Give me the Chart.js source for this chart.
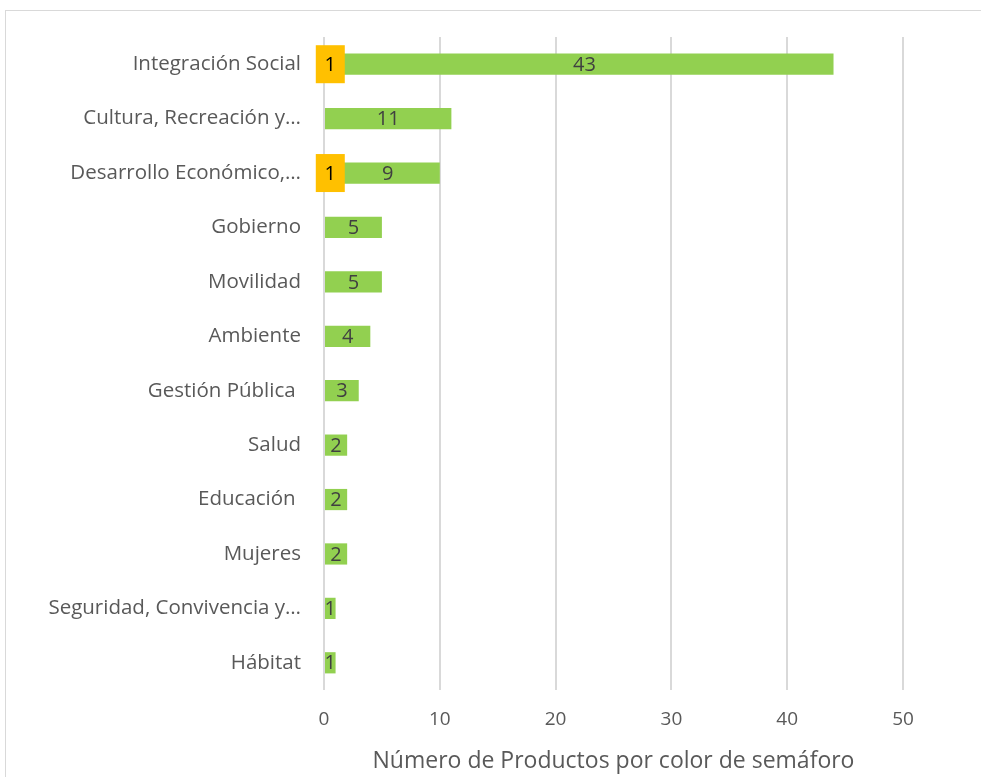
<!DOCTYPE html>
<html>
<head>
<meta charset="utf-8">
<script src="https://cdn.jsdelivr.net/npm/chart.js@4"></script>
<style>
  html, body { margin: 0; padding: 0; background: #fff; }
  #frame {
    position: absolute; left: 5px; top: 10px; width: 1000px; height: 800px;
    border: 1.5px solid #d9d9d9; box-sizing: border-box;
  }
  #chart { position: absolute; left: 0; top: 0; }
</style>
</head>
<body>
<div id="frame"></div>
<canvas id="chart" width="981" height="777"></canvas>
<script>
const sectors = [
  'Integración Social',
  'Cultura, Recreación y…',
  'Desarrollo Económico,…',
  'Gobierno',
  'Movilidad',
  'Ambiente',
  'Gestión Pública ',
  'Salud',
  'Educación ',
  'Mujeres',
  'Seguridad, Convivencia y…',
  'Hábitat'
];
const yellowProducts = [1, null, 1, null, null, null, null, null, null, null, null, null];
const greenProducts = [43, 11, 9, 5, 5, 4, 3, 2, 2, 2, 1, 1];
const xTicks = [0, 10, 20, 30, 40, 50];

const FONT = '"Open Sans"';

// data labels drawn in the centre of each segment, yellow ones with a filled box
const barLabels = {
  id: 'barLabels',
  afterDatasetsDraw(chart) {
    const ctx = chart.ctx;
    ctx.save();
    ctx.font = '20px ' + FONT;
    ctx.textAlign = 'center';
    ctx.textBaseline = 'middle';
    chart.data.datasets.forEach((ds, i) => {
      const meta = chart.getDatasetMeta(i);
      meta.data.forEach((bar, j) => {
        const v = ds.data[j];
        if (v == null) return;
        const cx = (bar.x + bar.base) / 2;
        const cy = bar.y;
        if (ds.labelBox) {
          ctx.fillStyle = ds.backgroundColor;
          ctx.fillRect(cx - 14.5, cy - 19, 29, 38);
          ctx.fillStyle = '#000';
        } else {
          ctx.fillStyle = '#404040';
        }
        ctx.fillText(String(v), cx, cy + 1);
      });
    });
    ctx.restore();
  }
};

new Chart(document.getElementById('chart'), {
  type: 'bar',
  data: {
    labels: sectors,
    datasets: [
      {
        label: 'Amarillo',
        data: yellowProducts,
        backgroundColor: '#FFC000',
        labelBox: true,
        barPercentage: 0.39,
        categoryPercentage: 1
      },
      {
        label: 'Verde',
        data: greenProducts,
        backgroundColor: '#92D050',
        barPercentage: 0.39,
        categoryPercentage: 1
      }
    ]
  },
  options: {
    indexAxis: 'y',
    responsive: false,
    animation: false,
    layout: { padding: { top: 37, right: 78, left: 0, bottom: 0 } },
    plugins: {
      legend: { display: false },
      tooltip: { enabled: false }
    },
    scales: {
      x: {
        stacked: true,
        min: 0,
        max: 50,
        afterBuildTicks(scale) {
          scale.ticks = xTicks.map(v => ({ value: v }));
        },
        afterFit(scale) { scale.height = 87; },
        grid: { color: '#d9d9d9', lineWidth: 2, drawTicks: false },
        border: { display: false },
        ticks: { color: '#595959', font: { family: FONT, size: 19 }, padding: 18 },
        title: {
          display: true,
          text: 'Número de Productos por color de semáforo',
          color: '#595959',
          font: { family: FONT, size: 23 },
          padding: { top: 0, bottom: 2 }
        }
      },
      y: {
        stacked: true,
        afterFit(scale) { scale.width = 324; },
        grid: { display: false, drawTicks: false },
        border: { display: false },
        ticks: { color: '#595959', font: { family: FONT, size: 20.5 }, padding: 23 }
      }
    }
  },
  plugins: [barLabels]
});
</script>
</body>
</html>
